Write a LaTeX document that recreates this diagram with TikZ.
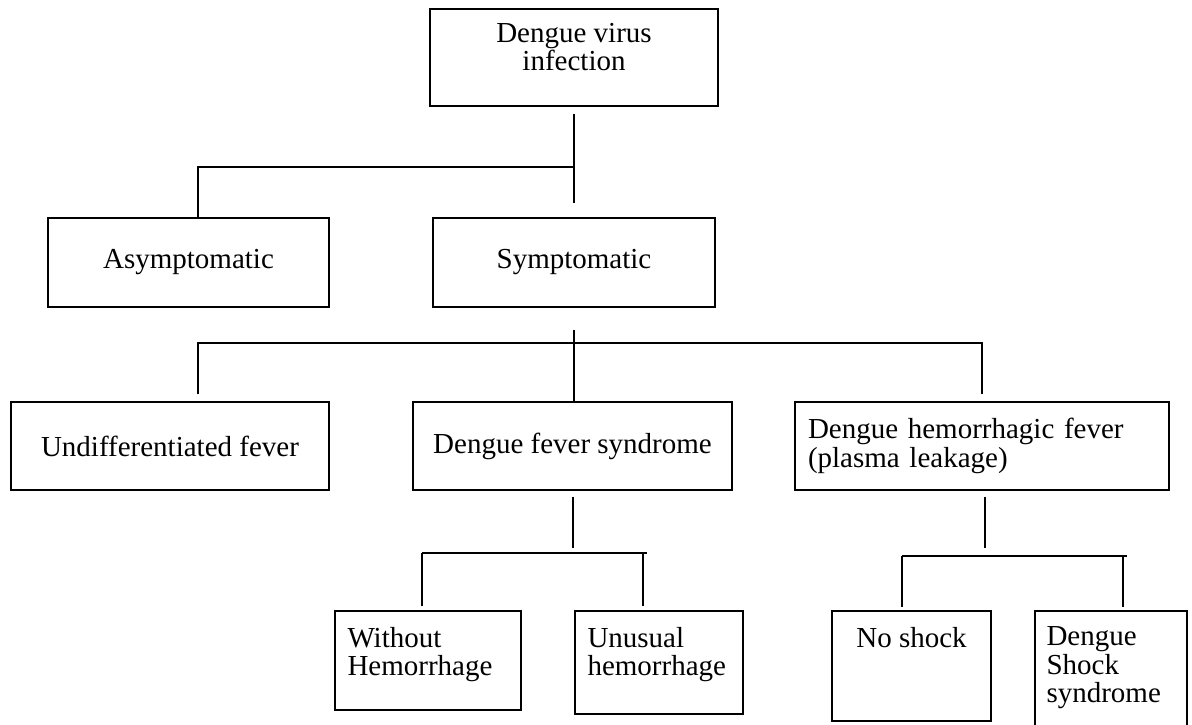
\documentclass[tikz,border=0pt]{standalone}
\usepackage{fontspec}
\setmainfont{Liberation Serif}
\usepackage{tikz}

\begin{document}
\begin{tikzpicture}[x=1pt,y=-1pt,
  box/.style={draw,line width=1.4pt,inner sep=0pt},
  txt/.style={inner sep=0pt,align=left},
  every node/.style={font=\fontsize{29}{28.5}\selectfont},
  link/.style={line width=1.4pt}]
\useasboundingbox (0,0) rectangle (1192,725);

\node [box,minimum width=288pt,minimum height=97pt] (root) at (574,57.5) {};
\node [txt,align=center,anchor=north] (root-t) at ([yshift=-14.5pt]root.north) {Dengue virus\\infection};

\node [box,minimum width=281pt,minimum height=89pt] (asym) at (188.5,262.5) {Asymptomatic};
\node [box,minimum width=282pt,minimum height=89pt] (sym) at (574,262.5) {Symptomatic};

\node [box,minimum width=318pt,minimum height=88pt] (undiff) at (170,446) {Undifferentiated fever};
\node [box,minimum width=319pt,minimum height=88pt] (dfs) at (572.5,446) {Dengue fever syndrome};
\node [box,minimum width=374pt,minimum height=88pt,inner xsep=13pt,text width=348pt,align=left] (dhf) at (982,446)
  {Dengue hemorrhagic fever\\(plasma leakage)};

\node [box,minimum width=186pt,minimum height=99pt] (wh) at (428,660.5) {};
\node [txt,anchor=north west] (wh-t) at ([xshift=13pt,yshift=-16.5pt]wh.north west) {Without\\Hemorrhage};
\node [box,minimum width=168pt,minimum height=103pt] (uh) at (659,662.5) {};
\node [txt,anchor=north west] (uh-t) at ([xshift=13pt,yshift=-16.5pt]uh.north west) {Unusual\\hemorrhage};

\node [box,minimum width=159pt,minimum height=110pt] (ns) at (911.5,666) {};
\node [txt,anchor=north] (ns-t) at ([yshift=-16.5pt]ns.north) {No shock};
\node [box,minimum width=152pt,minimum height=122pt] (dss) at (1111,672) {};
\node [txt,anchor=north west] (dss-t) at ([xshift=12pt,yshift=-16.5pt]dss.north west) {Dengue\\Shock\\syndrome};

% branches
\coordinate (a1) at (198,167);
\draw [link] ([yshift=-7pt]root.south) -- ++(0,89);
\draw [link] (root.south |- a1) -- (a1) -- (a1 |- asym.north);

\coordinate (bl) at (198,343);
\coordinate (br) at (982,343);
\draw [link] ([yshift=-22pt]sym.south) -- (sym.south |- dfs.north);
\draw [link] ([yshift=7pt]bl |- undiff.north) -- (bl) -- (br) -- ([yshift=7pt]br |- dhf.north);

\coordinate (wl) at (422,553);
\coordinate (wr) at (647,553);
\coordinate (wu) at (643,553);
\draw [link] ([xshift=0.5pt,yshift=-6pt]dfs.south) -- ++(0,51);
\draw [link] (wl) -- (wr);
\draw [link] (wl) -- ([yshift=4pt]wl |- wh.north);
\draw [link] (wu) -- ([yshift=4pt]wu |- uh.north);

\coordinate (nl) at (902,556);
\coordinate (nr) at (1127,556);
\coordinate (nu) at (1123,556);
\draw [link] ([xshift=3pt,yshift=-6pt]dhf.south) -- ++(0,51);
\draw [link] (nl) -- (nr);
\draw [link] (nl) -- ([yshift=3pt]nl |- ns.north);
\draw [link] (nu) -- ([yshift=3pt]nu |- dss.north);
\end{tikzpicture}
\end{document}
